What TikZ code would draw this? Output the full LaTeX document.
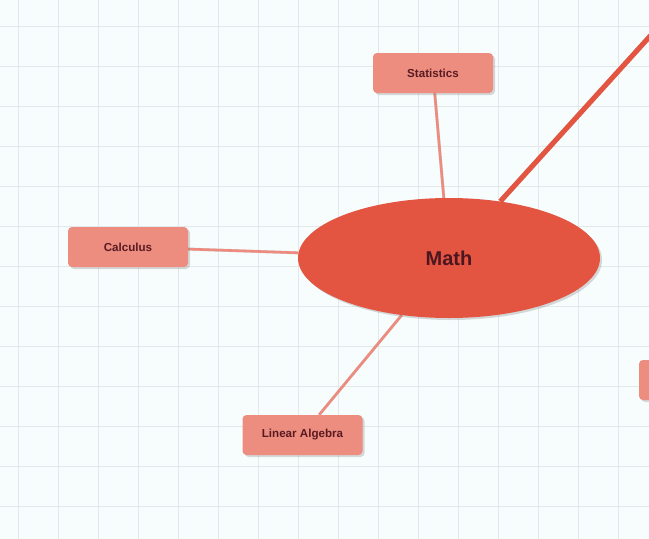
\documentclass[tikz,border=0pt]{standalone}
\usepackage{fontspec}
\setmainfont{Liberation Sans}
\usetikzlibrary{shadows,shapes.geometric}
\definecolor{bgcol}{HTML}{F7FDFD}
\definecolor{gridcol}{HTML}{E3E9EB}
\definecolor{mathfill}{HTML}{E35441}
\definecolor{boxfill}{HTML}{EC8D80}
\definecolor{linecol}{HTML}{EE8B7E}
\definecolor{txtcol}{HTML}{5A1A22}
\definecolor{mathtxt}{HTML}{4C1620}
\pgfdeclarelayer{back}
\pgfdeclarelayer{edges}
\pgfsetlayers{back,edges,main}
\tikzset{
  gridline/.style={draw=gridcol, line width=0.9pt},
  topicbox/.style={rectangle, rounded corners=4pt, minimum width=120pt, minimum height=40pt,
    inner sep=0pt, fill=boxfill, text=txtcol, font=\bfseries\fontsize{11.6pt}{14pt}\selectfont,
    drop shadow={shadow xshift=2pt, shadow yshift=-2pt, opacity=0.3, fill=gray}},
  mainnode/.style={ellipse, minimum width=302pt, minimum height=120pt, inner sep=0pt,
    fill=mathfill, text=mathtxt, font=\bfseries\fontsize{20pt}{24pt}\selectfont,
    drop shadow={shadow xshift=2pt, shadow yshift=-2pt, opacity=0.3, fill=gray}},
  thinlink/.style={draw=linecol, line width=2.6pt},
  thicklink/.style={draw=mathfill, line width=5pt},
  linkshadow/.style={draw=gray, opacity=0.3, line width=3pt}
}
\begin{document}
\begin{tikzpicture}[x=1pt, y=-1pt]
\useasboundingbox (0,0) rectangle (649,539);
\clip (0,0) rectangle (649,539);
\begin{pgfonlayer}{back}
  \fill[bgcol] (0,0) rectangle (649,539);
  \foreach \x in {18,58,...,618} \draw[gridline] (\x,0) -- (\x,539);
  \foreach \y in {26,66,...,506} \draw[gridline] (0,\y) -- (649,\y);
\end{pgfonlayer}

\node[mainnode] (math) at (449,258) {Math};
\node[topicbox] (stat) at (433,73) {Statistics};
\node[topicbox] (calc) at (128,247) {Calculus};
\node[topicbox] (linalg) at (302.5,435) {Linear Algebra};
\node[topicbox] (other) at (699,380) {};
\coordinate (far) at (700,-19);

\begin{pgfonlayer}{edges}
  \begin{scope}[xshift=1.5pt, yshift=-1.5pt]
    \draw[linkshadow] (stat) -- (math);
    \draw[linkshadow] (calc) -- (math);
    \draw[linkshadow] (linalg) -- (math);
    \draw[linkshadow, line width=5pt] (math) -- (far);
  \end{scope}
  \draw[thinlink] (stat) -- (math);
  \draw[thinlink] (calc) -- (math);
  \draw[thinlink] (linalg) -- (math);
  \draw[thicklink] (math) -- (far);
\end{pgfonlayer}
\end{tikzpicture}
\end{document}
